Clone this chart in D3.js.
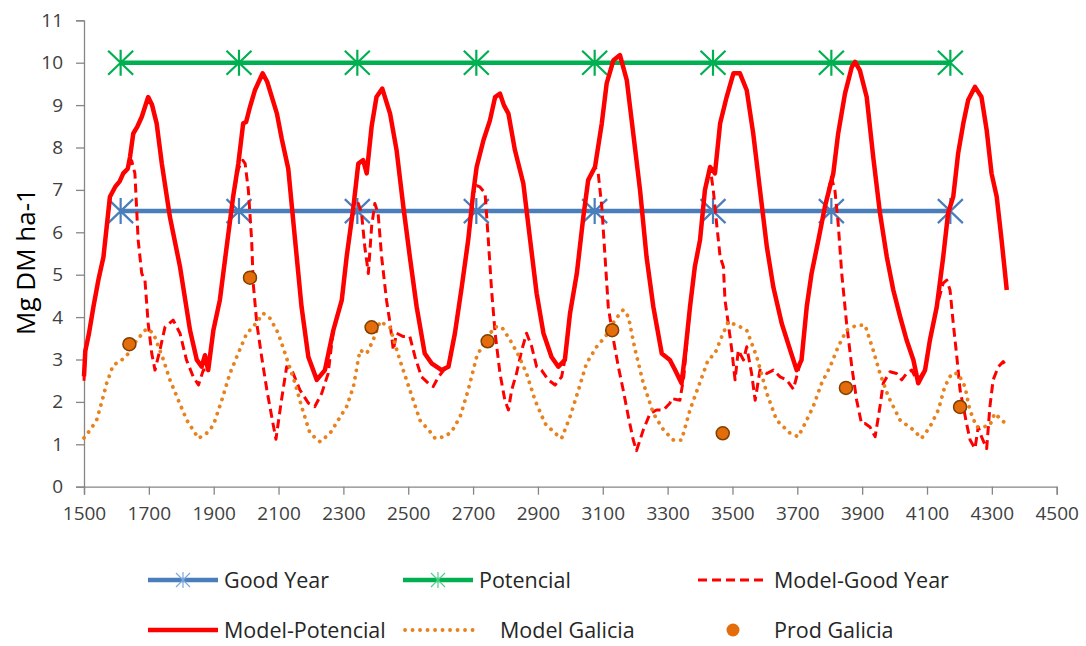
<!DOCTYPE html>
<html>
<head>
<meta charset="utf-8">
<script src="https://cdn.jsdelivr.net/npm/d3@7"></script>
<style>
  html, body { margin: 0; padding: 0; background: #fff; }
  svg { display: block; font-family: "Open Sans", "Noto Sans", sans-serif; }
</style>
</head>
<body>
<svg id="chart" width="1086" height="646"></svg>
<script>
// ---------- DATA ----------
const xTicks = [1500,1700,1900,2100,2300,2500,2700,2900,3100,3300,3500,3700,3900,4100,4300,4500];
const yTicks = [0,1,2,3,4,5,6,7,8,9,10,11];

const markerDays = [1613,1978,2343,2710,3075,3440,3805,4172];
const goodYear   = [6.5,6.5,6.5,6.5,6.5,6.5,6.5,6.5];
const potencial  = [10,10,10,10,10,10,10,10];

const prodDays = [1640,2012,2387,2745,3129,3470,3850,4202];
const prodVals = [3.36,4.93,3.76,3.43,3.69,1.26,2.33,1.88];

const mpDays = [1500,1504,1515,1529,1545,1560,1570,1580,1596,1610,1621,1635,1642,1652,1665,1678,1698,1710,1724,1740,1765,1796,1827,1848,1863,1873,1883,1899,1919,1940,1960,1976,1991,2000,2012,2027,2051,2065,2079,2095,2110,2130,2151,2171,2192,2218,2243,2269,2295,2310,2331,2346,2361,2372,2387,2402,2420,2444,2464,2485,2505,2526,2551,2572,2603,2624,2644,2665,2685,2700,2711,2732,2752,2768,2783,2795,2809,2829,2855,2876,2896,2917,2942,2963,2983,2999,3020,3040,3055,3076,3097,3112,3133,3153,3174,3194,3215,3235,3256,3282,3307,3323,3343,3354,3369,3384,3400,3415,3431,3446,3462,3482,3503,3523,3544,3564,3585,3606,3626,3652,3678,3698,3713,3729,3744,3765,3785,3811,3826,3847,3868,3878,3893,3914,3934,3955,3976,3996,4017,4037,4058,4073,4094,4109,4130,4150,4165,4181,4196,4212,4227,4248,4268,4284,4299,4315,4330,4346];
const mpVals = [2.6,3.2,3.6,4.24,4.9,5.42,6.13,6.84,7.07,7.2,7.39,7.5,7.78,8.33,8.5,8.72,9.19,9.0,8.57,7.62,6.36,5.19,3.69,2.99,2.83,3.10,2.75,3.69,4.40,5.66,6.84,7.62,8.57,8.6,8.96,9.35,9.75,9.55,9.2,8.8,8.2,7.5,5.82,4.24,3.06,2.52,2.75,3.69,4.40,5.42,6.60,7.62,7.70,7.39,8.49,9.19,9.39,8.80,7.94,6.60,5.42,4.24,3.14,2.91,2.75,2.83,3.62,4.71,5.82,6.9,7.54,8.17,8.64,9.19,9.27,9.0,8.80,7.94,7.15,5.82,4.56,3.62,3.06,2.83,2.99,4.09,5.03,6.36,7.23,7.54,8.57,9.51,10.06,10.18,9.59,8.33,6.99,5.42,4.24,3.14,2.99,2.75,2.44,3.14,4.24,5.19,5.82,6.99,7.54,7.39,8.57,9.19,9.75,9.75,9.35,8.33,6.99,5.66,4.71,3.85,3.22,2.75,2.99,4.24,5.03,5.82,6.60,7.39,8.33,9.27,9.90,10.02,9.82,9.19,7.78,6.45,5.42,4.64,4.01,3.46,2.99,2.44,2.75,3.46,4.24,5.42,6.45,6.84,7.86,8.57,9.12,9.43,9.19,8.41,7.39,6.84,5.82,4.64];

const mgyDays = [1500,1504,1515,1529,1545,1560,1570,1580,1596,1610,1621,1635,1647,1657,1667,1678,1688,1698,1709,1719,1734,1750,1775,1796,1816,1837,1853,1868,1883,1899,1919,1940,1960,1976,1990,1997,2007,2017,2022,2033,2048,2064,2079,2092,2109,2125,2141,2166,2192,2212,2233,2253,2269,2295,2310,2331,2346,2356,2366,2377,2387,2397,2407,2418,2433,2444,2454,2464,2485,2505,2521,2541,2562,2577,2593,2610,2624,2644,2665,2685,2700,2711,2721,2737,2747,2757,2768,2783,2798,2809,2819,2834,2850,2865,2881,2896,2911,2932,2953,2973,2983,2999,3020,3040,3055,3076,3086,3097,3107,3117,3133,3148,3163,3179,3194,3204,3225,3246,3266,3287,3307,3312,3338,3350,3369,3384,3400,3415,3431,3441,3451,3462,3472,3477,3487,3498,3508,3518,3534,3544,3559,3570,3585,3606,3626,3647,3667,3688,3705,3713,3729,3744,3765,3785,3805,3816,3826,3837,3852,3868,3883,3898,3909,3924,3940,3955,3965,3986,4006,4022,4037,4053,4068,4080,4094,4109,4130,4150,4161,4171,4181,4192,4202,4212,4222,4233,4248,4258,4268,4284,4294,4304,4320,4335,4346];
const mgyVals = [2.5,3.2,3.6,4.24,4.9,5.42,6.13,6.84,7.07,7.2,7.39,7.5,7.69,7.39,5.82,5.03,4.87,3.85,3.14,2.75,3.22,3.77,3.93,3.62,2.99,2.59,2.40,2.75,2.75,3.69,4.40,5.66,6.84,7.5,7.7,7.62,6.99,5.82,4.79,3.85,3.06,2.28,1.65,1.12,2.04,2.83,2.75,2.28,1.97,1.89,2.20,2.67,3.69,4.40,5.42,6.60,6.68,6.45,5.66,5.03,6.13,6.68,6.45,5.42,4.40,3.85,3.22,3.62,3.54,3.54,3.06,2.59,2.44,2.36,2.59,2.75,2.83,3.62,4.71,5.82,6.9,7.1,7.07,6.92,5.82,4.64,3.62,2.67,2.04,1.81,2.28,2.67,3.22,3.62,3.30,2.83,2.75,2.52,2.40,2.59,2.99,4.09,5.03,6.36,7.23,7.54,7.39,6.60,5.42,4.24,3.46,2.83,2.28,1.65,1.10,0.85,1.34,1.73,1.81,1.81,1.97,2.08,2.04,2.6,4.24,5.19,5.82,6.99,7.54,6.99,6.21,5.42,5.19,4.40,3.85,3.22,2.52,3.22,2.99,3.30,2.67,2.04,2.75,2.67,2.75,2.59,2.52,2.3,2.8,2.99,4.24,5.03,5.82,6.60,7.3,6.99,6.21,5.03,3.85,2.83,2.04,1.49,1.49,1.41,1.18,1.89,2.44,2.71,2.67,2.52,2.67,2.75,2.52,2.6,2.75,3.46,4.24,4.8,4.87,4.64,3.85,3.06,2.28,1.89,1.49,1.10,0.90,1.41,1.18,0.90,1.89,2.52,2.83,2.95,2.83];

const mgDays = [1500,1520,1539,1555,1570,1590,1611,1637,1663,1693,1714,1745,1765,1791,1817,1853,1878,1899,1925,1950,1971,2002,2022,2053,2074,2099,2125,2151,2171,2197,2228,2259,2284,2310,2331,2351,2372,2392,2413,2444,2474,2505,2536,2567,2583,2613,2634,2660,2685,2711,2737,2768,2788,2814,2840,2865,2891,2922,2953,2973,2999,3025,3050,3081,3112,3137,3163,3179,3200,3225,3256,3287,3318,3343,3369,3395,3425,3446,3467,3487,3513,3544,3575,3606,3636,3678,3703,3729,3749,3775,3801,3826,3852,3883,3909,3934,3955,3981,4017,4058,4083,4109,4135,4155,4176,4196,4217,4232,4253,4274,4294,4309,4330,4350];
const mgVals = [1.15,1.35,1.57,2.0,2.44,2.87,2.95,3.14,3.46,3.73,3.62,2.99,2.52,2.04,1.57,1.14,1.26,1.45,2.04,2.67,3.06,3.62,3.77,4.09,3.97,3.62,3.03,2.44,1.89,1.26,1.06,1.26,1.57,1.89,2.36,3.22,3.14,3.46,3.9,3.75,2.99,2.28,1.57,1.30,1.14,1.18,1.30,1.65,2.28,3.06,3.46,3.77,3.77,3.46,3.10,2.67,2.04,1.49,1.26,1.14,1.65,2.28,2.91,3.30,3.58,3.93,4.17,4.01,3.22,2.44,1.73,1.34,1.10,1.10,1.81,2.36,2.99,3.14,3.54,3.89,3.81,3.69,3.06,2.20,1.57,1.26,1.18,1.57,1.89,2.44,2.83,3.30,3.69,3.81,3.81,3.22,2.67,2.12,1.57,1.34,1.14,1.41,1.81,2.36,2.67,2.67,2.36,1.81,1.41,1.41,1.45,1.73,1.57,1.45];

const legendItems = ["Good Year","Potencial","Model-Good Year","Model-Potencial","Model Galicia","Prod Galicia"];

// ---------- STYLE ----------
const C = {
  blue: "#4a7ebb", green: "#00b050", red: "#ff0000",
  orange: "#e8821e", dot: "#e46c0a", dotStroke: "#7f3f00",
  axis: "#868686", tick: "#404040"
};

const svg = d3.select("#chart");
const x = d3.scaleLinear().domain([1500, 4500]).range([84, 1056.7]);
const y = d3.scaleLinear().domain([0, 11]).range([486.7, 20.3]);

// axes
const xAxis = svg.append("g").attr("transform", `translate(0,${y(0)})`)
  .call(d3.axisBottom(x).tickValues(xTicks).tickSize(8).tickPadding(12).tickFormat(d3.format("d")));
const yAxis = svg.append("g").attr("transform", `translate(${x(1500)},0)`)
  .call(d3.axisLeft(y).tickValues(yTicks).tickSize(8).tickPadding(13).tickFormat(d3.format("d")));
[xAxis, yAxis].forEach(g => {
  g.select(".domain").attr("stroke", C.axis).attr("stroke-width", 1.3);
  g.selectAll(".tick line").attr("stroke", C.axis).attr("stroke-width", 1.3);
  g.selectAll(".tick text").attr("fill", C.tick).style("font-size", "19px")
    .style("font-family", '"Open Sans", sans-serif');
});

svg.append("text")
  .attr("transform", `translate(35,${(y(0) + y(11)) / 2 + 8}) rotate(-90)`)
  .attr("text-anchor", "middle")
  .style("font-size", "26px").attr("fill", "#000")
  .text("Mg DM ha-1");

const line = d3.line().x(d => x(d[0])).y(d => y(d[1]));
const zip = (a, b) => a.map((v, i) => [v, b[i]]);

const starPath = "M0,-13L0,13M-12.5,-12L12.5,12M-12.5,12L12.5,-12";
function starSeries(vals, color) {
  const pts = zip(markerDays, vals);
  svg.append("path").datum(pts).attr("d", line).attr("fill", "none")
    .attr("stroke", color).attr("stroke-width", 4.5);
  svg.append("g").selectAll("path").data(pts).join("path")
    .attr("transform", d => `translate(${x(d[0])},${y(d[1])})`)
    .attr("d", starPath).attr("stroke", color).attr("stroke-width", 2.2).attr("fill", "none");
}
starSeries(goodYear, C.blue);
starSeries(potencial, C.green);

// Model-Good Year (dashed)
svg.append("path").datum(zip(mgyDays, mgyVals)).attr("d", line).attr("fill", "none")
  .attr("stroke", C.red).attr("stroke-width", 3).attr("stroke-dasharray", "9 5")
  .attr("stroke-linejoin", "round");
// Model-Potencial (solid)
svg.append("path").datum(zip(mpDays, mpVals)).attr("d", line).attr("fill", "none")
  .attr("stroke", C.red).attr("stroke-width", 4.5).attr("stroke-linejoin", "round");
// Model Galicia (dotted)
svg.append("path").datum(zip(mgDays, mgVals)).attr("d", line).attr("fill", "none")
  .attr("stroke", C.orange).attr("stroke-width", 3.8).attr("stroke-dasharray", "0.1 7.4")
  .attr("stroke-linecap", "round");
// Prod Galicia
svg.append("g").selectAll("circle").data(zip(prodDays, prodVals)).join("circle")
  .attr("cx", d => x(d[0])).attr("cy", d => y(d[1])).attr("r", 6.5)
  .attr("fill", C.dot).attr("stroke", C.dotStroke).attr("stroke-width", 1.5);

// ---------- LEGEND ----------
const legPos = [
  {lx: 148, ly: 580}, {lx: 403, ly: 580}, {lx: 698, ly: 580},
  {lx: 148, ly: 630}, {lx: 403, ly: 630}, {lx: 698, ly: 630}
];
const lg = svg.append("g");
legendItems.forEach((name, i) => {
  const p = legPos[i];
  const g = lg.append("g").attr("transform", `translate(${p.lx},${p.ly})`);
  if (i === 0 || i === 1) {
    const col = i === 0 ? C.blue : C.green;
    g.append("line").attr("x1", 0).attr("x2", 70).attr("stroke", col).attr("stroke-width", 4.5);
    g.append("path").attr("transform", "translate(35,0)")
      .attr("d", "M0,-8L0,8M-7,-7L7,7M-7,7L7,-7").attr("stroke", i === 0 ? "#7fa6dd" : "#4fd08a")
      .attr("stroke-width", 1.2).attr("fill", "none");
  } else if (i === 2) {
    g.append("line").attr("x1", 0).attr("x2", 68).attr("stroke", C.red).attr("stroke-width", 3)
      .attr("stroke-dasharray", "9 5");
  } else if (i === 3) {
    g.append("line").attr("x1", 0).attr("x2", 70).attr("stroke", C.red).attr("stroke-width", 4.5);
  } else if (i === 4) {
    g.append("line").attr("x1", 2).attr("x2", 70).attr("stroke", C.orange).attr("stroke-width", 3.8)
      .attr("stroke-dasharray", "0.1 7.4").attr("stroke-linecap", "round");
  } else {
    g.append("circle").attr("cx", 35).attr("cy", 0).attr("r", 6.5).attr("fill", C.dot);
  }
  g.append("text").attr("x", i === 4 ? 97 : 76).attr("y", 8)
    .style("font-size", "21.5px").attr("fill", "#262626").text(name);
});
</script>
</body>
</html>
